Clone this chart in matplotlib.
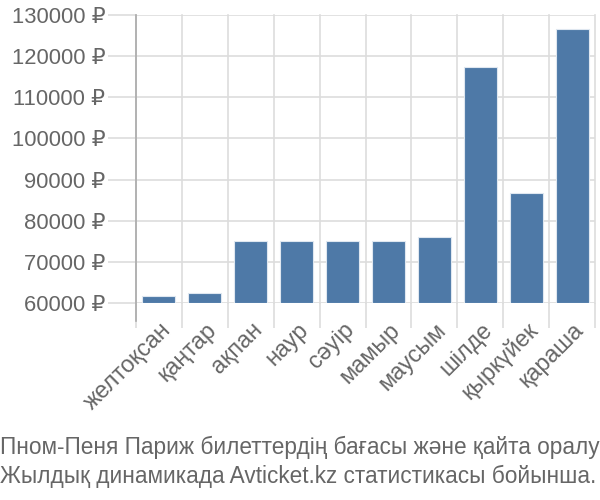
import numpy as np
import matplotlib
matplotlib.use("Agg")
import matplotlib.pyplot as plt

plt.rcParams['font.family'] = ['Liberation Sans', 'DejaVu Sans']

# Data
months = ['желтоқсан', 'қаңтар', 'ақпан', 'наур', 'сәуір', 'мамыр',
          'маусым', 'шілде', 'қыркүйек', 'қараша']
prices = [61600, 62400, 75000, 75000, 75000, 75000, 76000, 117300, 86700, 126600]
y_ticks = [60000, 70000, 80000, 90000, 100000, 110000, 120000, 130000]
caption = ('Пном-Пеня Париж билеттердің бағасы және қайта оралу\n'
           'Жылдық динамикада Avticket.kz статистикасы бойынша.')

base = 60000
text_col = '#666666'
grid_col = '#dddddd'

fig = plt.figure(figsize=(6, 5), dpi=100)
ax = fig.add_axes([0.2267, 0.394, 0.765, 0.576])

x = np.arange(len(months))
heights = [p - base for p in prices]
ax.bar(x, heights, bottom=base, width=0.72, color='#4e79a7',
       edgecolor='#dfe7f0', linewidth=0.8, zorder=3)

ax.set_xlim(-0.5, len(months) - 0.5)
ax.set_ylim(base, 130000)

# grid: horizontal at y ticks, vertical at category boundaries
ax.set_yticks(y_ticks)
ax.set_yticklabels([f'{v} ₽' for v in y_ticks])
bounds = np.arange(len(months) + 1) - 0.5
for b in bounds:
    ax.axvline(b, color=grid_col, lw=1.2, zorder=1, clip_on=False)
for v in y_ticks:
    ax.axhline(v, color=grid_col, lw=1.2, zorder=1)

ax.set_xticks(bounds, minor=True)
ax.set_xticks(x)
ax.set_xticklabels(months, rotation=45, ha='right', rotation_mode='anchor',
                   fontsize=16.8, color=text_col)
ax.tick_params(axis='x', which='major', length=0, pad=11)
ax.tick_params(axis='x', which='minor', length=18, color=grid_col, width=1.2)
ax.tick_params(axis='y', length=20, color=grid_col, width=1.2,
               labelsize=15.8, labelcolor=text_col, pad=2)

for s in ['top', 'right', 'bottom']:
    ax.spines[s].set_visible(False)
ax.spines['left'].set_color('#aaaaaa')
ax.spines['left'].set_linewidth(1.2)
ax.spines['left'].set_bounds(base - 4400, 130000)

fig.text(0.0, 0.077, caption, fontsize=16.3, color=text_col,
         ha='left', va='center', linespacing=1.33)

fig.savefig('out.png', dpi=100, facecolor='white')
